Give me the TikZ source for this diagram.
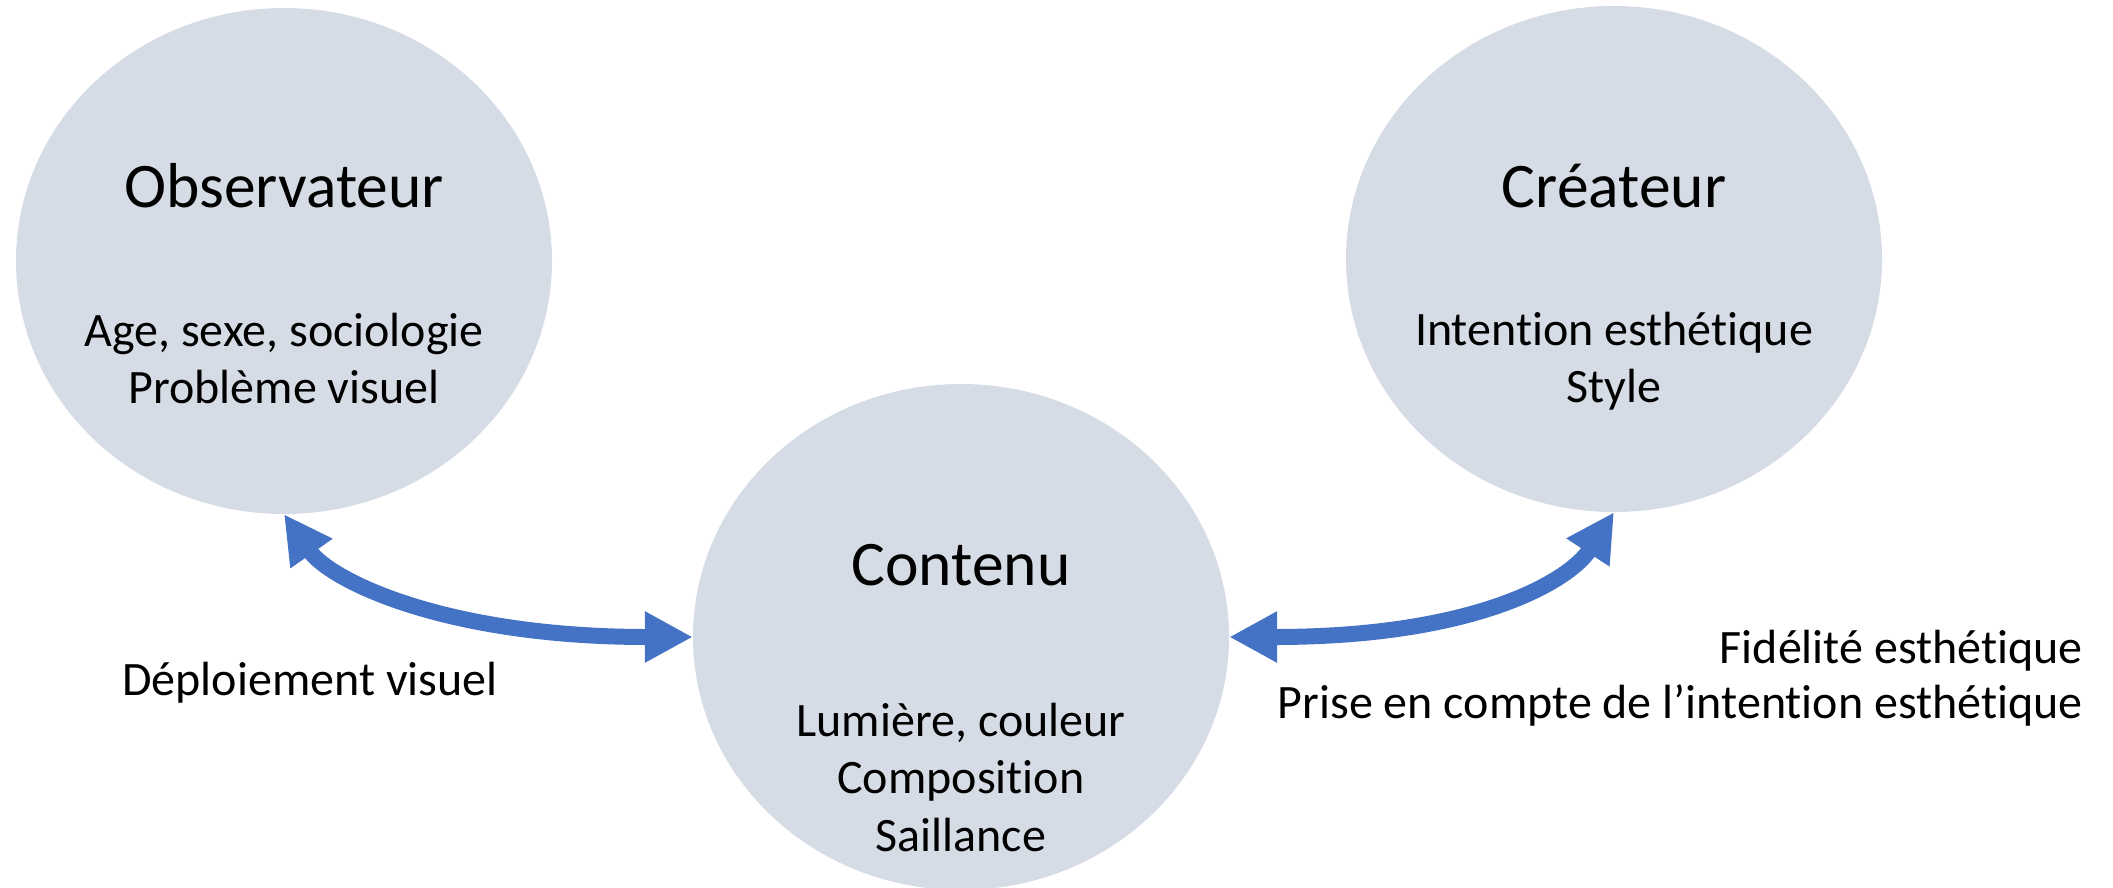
\documentclass[tikz,border=0pt]{standalone}
\usepackage{fontspec}
\setmainfont{Carlito}[Ligatures=NoCommon]
\frenchspacing
\usetikzlibrary{shapes.geometric, arrows.meta}
\definecolor{bubblefill}{HTML}{D6DCE5}
\definecolor{flowblue}{HTML}{4472C4}
\begin{document}
\begin{tikzpicture}[x=1pt, y=1pt,
  bubble/.style={ellipse, fill=bubblefill, draw=none, minimum width=536pt,
    minimum height=506pt, inner sep=0pt},
  headline/.style={anchor=base, inner sep=0pt, font=\fontsize{63.5}{76}\selectfont},
  detail/.style={anchor=base, inner sep=0pt, align=flush center, text width=600pt,
    font=\fontsize{48}{57.5}\selectfont},
  flow/.style={draw=flowblue, line width=16pt,
    {Triangle[length=48pt, width=48pt]}-{Triangle[length=48pt, width=48pt]}},
]
\useasboundingbox (0,0) rectangle (2113,-887);
\clip (0,0) rectangle (2113,-887);

% the three actors
\node[bubble] (obs)  at (284,-261) {};
\node[bubble] (cre)  at (1614,-259) {};
\node[bubble] (cont) at (961,-637) {};

\node[headline] (obsT) at (284,-207) {Observateur};
\node[detail]   (obsB) at (284,-346) {Age, sexe, sociologie\\Problème visuel};

\node[headline] (creT) at (1614,-207) {Créateur};
\node[detail]   (creB) at (1614,-345) {Intention esthétique\\Style};

\node[headline] (contT) at (961,-585) {Contenu};
\node[detail]   (contB) at (961,-736) {Lumière, couleur\\Composition\\Saillance};

% relations
\draw[flow] (obs.south) .. controls +(-55:80) and +(180:250) .. (cont.west);
\draw[flow] (cont.east) .. controls +(0:250) and +(-123:80) .. (cre.south);

\node[anchor=base, inner sep=0pt, font=\fontsize{48}{57.5}\selectfont] (dep) at (310,-695) {Déploiement visuel};
\node[anchor=base east, inner sep=0pt, align=flush right, text width=900pt,
  font=\fontsize{48}{55}\selectfont] (fid) at (2083,-663)
  {Fidélité esthétique\\Prise en compte de l’intention esthétique};
\end{tikzpicture}
\end{document}
